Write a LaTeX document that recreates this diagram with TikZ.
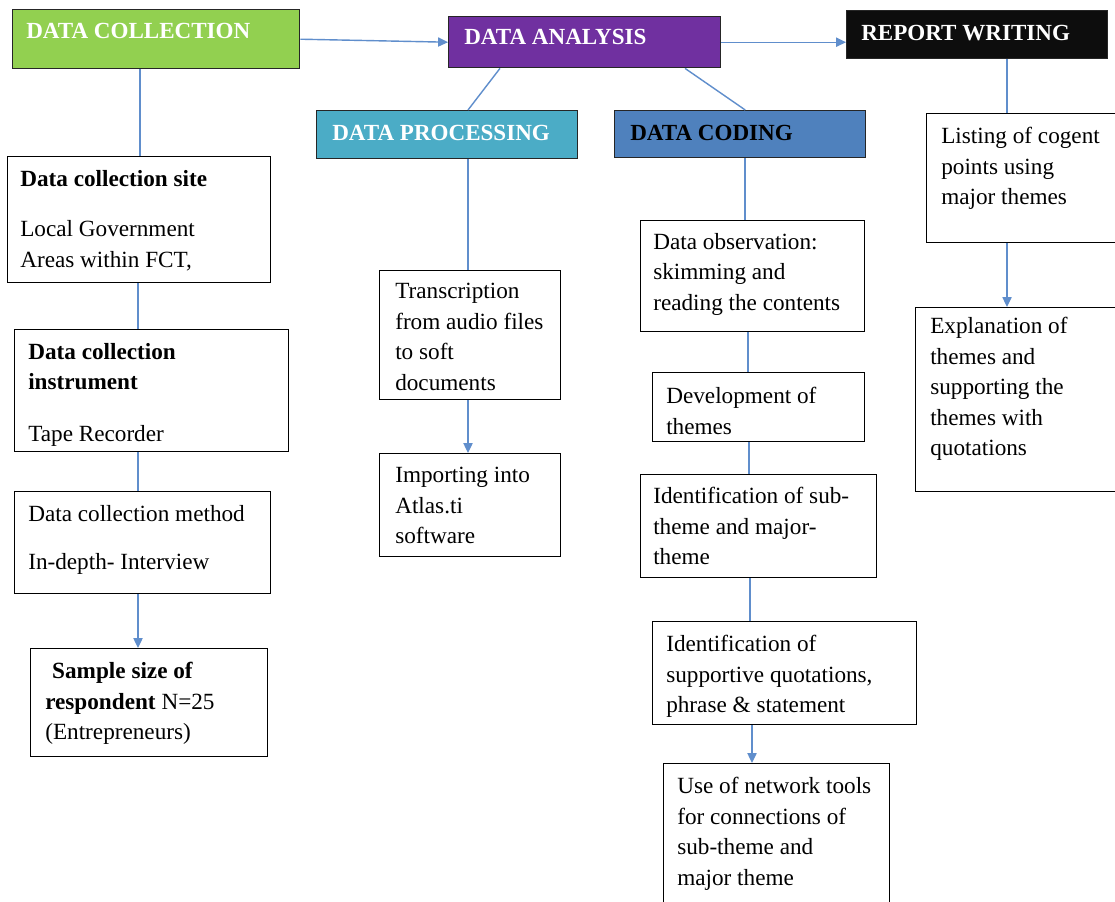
\documentclass[tikz,border=0pt]{standalone}
\usepackage{fontspec}
\setmainfont{Liberation Serif}
\usetikzlibrary{arrows.meta,calc}

\definecolor{hdgreen}{HTML}{92D050}
\definecolor{hdpurple}{HTML}{7030A0}
\definecolor{hdblack}{HTML}{0D0D0D}
\definecolor{hdteal}{HTML}{4BACC6}
\definecolor{hdblue}{HTML}{4F81BD}
\definecolor{linkblue}{RGB}{96,142,204}

% rectangular panel given by its top-left and bottom-right corners (px units)
\newcommand{\panel}[6]{%
  \node[#2, anchor=north west,
        minimum width={(#5-#3)*0.025cm},
        minimum height={(#6-#4)*0.025cm}] (#1) at (#3,#4) {};}

\tikzset{
  box/.style={draw=black, line width=0.8pt, fill=white, inner sep=0pt},
  head/.style={draw=black!85, line width=1pt, inner sep=0pt},
  htext/.style={font=\fontsize{16.4}{20}\selectfont\bfseries, inner sep=0pt, anchor=base west},
  btext/.style={font=\fontsize{16.5}{21.7}\selectfont, align=left, inner sep=0pt, anchor=north west},
  link/.style={draw=linkblue, line width=1pt},
  arr/.style={link, -{Triangle[length=7pt,width=6.5pt]}},
}

\begin{document}
\begin{tikzpicture}[x=0.025cm, y=-0.025cm]
\clip (0,0) rectangle (1115,901);
\fill[white] (0,0) rectangle (1115,901);

% ---- stage headers ----
\panel{dcol}{head,fill=hdgreen}{12}{9}{299}{68}
\node[htext,text=white] (dcolt) at (26,38) {DATA COLLECTION};
\panel{dana}{head,fill=hdpurple}{448}{16}{720}{67}
\node[htext,text=white] (danat) at (464,44) {DATA ANALYSIS};
\panel{rep}{head,fill=hdblack}{846}{10}{1107}{58}
\node[htext,text=white] (rept) at (861,40) {REPORT WRITING};
\panel{dproc}{head,fill=hdteal}{316}{110}{577}{158}
\node[htext,text=white] (dproct) at (332,140) {DATA PROCESSING};
\panel{dcod}{head,fill=hdblue}{614}{110}{865}{157}
\node[htext,text=black] (dcodt) at (630,140) {DATA CODING};

% ---- data collection column ----
\panel{site}{box}{7}{156}{270}{282}
\node[btext] (sitet) at (20,170) {\textbf{Data collection site}\\[14pt]Local Government\\Areas within FCT,};
\panel{instr}{box}{14}{329}{288}{451}
\node[btext] (instrt) at (28,343) {\textbf{Data collection}\\\textbf{instrument}\\[15pt]Tape Recorder};
\panel{meth}{box}{14}{491}{270}{593}
\node[btext] (metht) at (28,505) {Data collection method\\[12.5pt]In-depth- Interview};
\panel{samp}{box}{30}{648}{267}{756}
\node[btext] (sampt) at (45,662) {\hspace*{0.3em}\textbf{Sample size of}\\\textbf{respondent} N=25\\(Entrepreneurs)};

% ---- data processing column ----
\panel{trans}{box}{379}{270}{560}{399}
\node[btext] (transt) at (395,283) {Transcription\\from audio files\\to soft\\documents};
\panel{imp}{box}{379}{453}{560}{556}
\node[btext] (impt) at (395,467) {Importing into\\Atlas.ti\\software};

% ---- data coding column ----
\panel{obs}{box}{640}{220}{864}{331}
\node[btext] (obst) at (653,233) {Data observation:\\skimming and\\reading the contents};
\panel{dev}{box}{652}{372}{864}{441}
\node[btext] (devt) at (666,387) {Development of\\themes};
\panel{ident}{box}{640}{474}{876}{577}
\node[btext] (identt) at (653,487) {Identification of sub-\\theme and major-\\theme};
\panel{supp}{box}{652}{621}{916}{724}
\node[btext] (suppt) at (666,635) {Identification of\\supportive quotations,\\phrase \& statement};
\panel{net}{box}{663}{763}{889}{930}
\node[btext] (nett) at (677,777) {Use of network tools\\for connections of\\sub-theme and\\major theme};

% ---- report writing column ----
\panel{list}{box}{926}{113}{1130}{242}
\node[btext] (listt) at (941,127) {Listing of cogent\\points using\\major themes};
\panel{expl}{box}{915}{307}{1130}{491}
\node[btext] (explt) at (930,317) {Explanation of\\themes and\\supporting the\\themes with\\quotations};

% ---- connector positions ----
\coordinate (xa) at (140,0);
\coordinate (xb) at (138,0);
\coordinate (xdp) at (468,0);
\coordinate (xc) at (745,0);
\coordinate (xd) at (748,0);
\coordinate (xe) at (749,0);
\coordinate (xf) at (750,0);
\coordinate (xg) at (752,0);
\coordinate (xr) at (1007,0);

% ---- connectors ----
\draw[arr] (dcol.east) -- (dana.west);
\draw[arr] (dana.east) -- (dana.east -| rep.west);
\draw[link] ($(dana.south west)!.19!(dana.south east)$) -- (dproc.north -| xdp);
\draw[link] ($(dana.south west)!.867!(dana.south east)$) -- ($(dcod.north west)!.52!(dcod.north east)$);

\draw[link] (dcol.south -| xa) -- (site.north -| xa);
\draw[link] (site.south -| xb) -- (instr.north -| xb);
\draw[link] (instr.south -| xb) -- (meth.north -| xb);
\draw[arr] (meth.south -| xb) -- (samp.north -| xb);

\draw[link] (dproc.south -| xdp) -- (trans.north -| xdp);
\draw[arr] (trans.south -| xdp) -- (imp.north -| xdp);

\draw[link] (dcod.south -| xc) -- (obs.north -| xc);
\draw[link] (obs.south -| xd) -- (dev.north -| xd);
\draw[link] (dev.south -| xe) -- (ident.north -| xe);
\draw[link] (ident.south -| xf) -- (supp.north -| xf);
\draw[arr] (supp.south -| xg) -- (net.north -| xg);

\draw[link] (rep.south -| xr) -- (list.north -| xr);
\draw[arr] (list.south -| xr) -- (expl.north -| xr);
\end{tikzpicture}
\end{document}
